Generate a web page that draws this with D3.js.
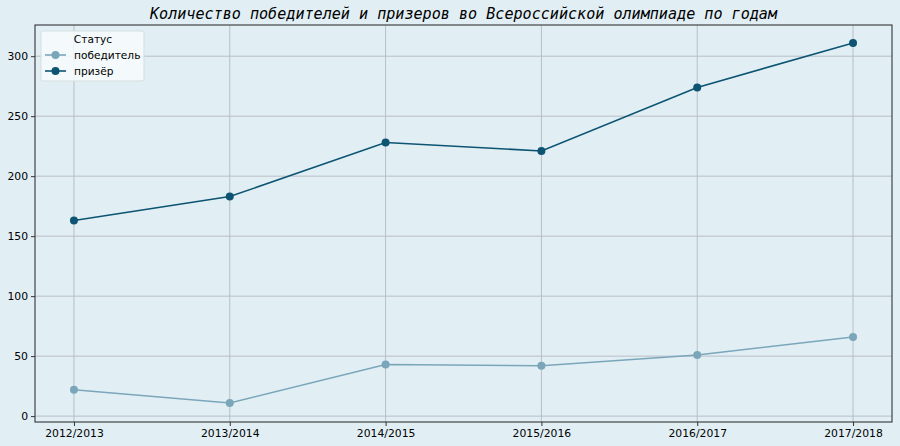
<!DOCTYPE html>
<html><head><meta charset="utf-8">
<script src="https://cdn.jsdelivr.net/npm/d3@7"></script>
<style>body{margin:0;background:#e1eff5;} svg{display:block;}</style>
</head><body>
<script>
const categories = ["2012/2013","2013/2014","2014/2015","2015/2016","2016/2017","2017/2018"];
const winners = [22, 11, 43, 42, 51, 66];
const prizers = [163, 183, 228, 221, 274, 311];
const seriesNames = ["победитель", "призёр"];
const seriesColors = ["#7ba6ba", "#0c5472"];
const yTicks = [0, 50, 100, 150, 200, 250, 300];
const title = "Количество победителей и призеров во Всероссийской олимпиаде по годам";
const legendTitle = "Статус";

const W = 900, H = 446;
const m = {left: 35, right: 8, top: 25, bottom: 24};
const svg = d3.select("body").append("svg").attr("width", W).attr("height", H);
svg.append("rect").attr("width", W).attr("height", H).attr("fill", "#e1eff5");

const x = d3.scalePoint().domain(categories).range([m.left, W - m.right]).padding(0.25);
const y = d3.scaleLinear().domain([-4.9, 326]).range([H - m.bottom, m.top]);

const g = svg.append("g");
g.selectAll(".vg").data(categories).join("line")
  .attr("x1", d => x(d)).attr("x2", d => x(d)).attr("y1", m.top).attr("y2", H - m.bottom)
  .attr("stroke", "#b9bdc6").attr("stroke-width", 1);
g.selectAll(".hg").data(yTicks).join("line")
  .attr("x1", m.left).attr("x2", W - m.right).attr("y1", d => y(d)).attr("y2", d => y(d))
  .attr("stroke", "#b9bdc6").attr("stroke-width", 1);

const font = "'DejaVu Sans', sans-serif";
const xAxis = svg.append("g").attr("transform", `translate(0,${H - m.bottom})`)
  .call(d3.axisBottom(x).tickSize(4).tickPadding(3));
const yAxis = svg.append("g").attr("transform", `translate(${m.left},0)`)
  .call(d3.axisLeft(y).tickValues(yTicks).tickSize(4).tickPadding(3));
[xAxis, yAxis].forEach(a => {
  a.select(".domain").remove();
  a.selectAll("text").attr("font-family", font).attr("font-size", "10.8px").attr("fill", "#000");
  a.selectAll("line").attr("stroke", "#333");
});
svg.append("rect").attr("x", m.left).attr("y", m.top)
  .attr("width", W - m.left - m.right).attr("height", H - m.top - m.bottom)
  .attr("fill", "none").attr("stroke", "#333").attr("stroke-width", 1.1);

const line = d3.line().x((d, i) => x(categories[i])).y(d => y(d));
[winners, prizers].forEach((vals, k) => {
  svg.append("path").datum(vals).attr("d", line).attr("fill", "none")
    .attr("stroke", seriesColors[k]).attr("stroke-width", 1.6);
  svg.selectAll(".pt" + k).data(vals).join("circle")
    .attr("cx", (d, i) => x(categories[i])).attr("cy", d => y(d)).attr("r", 4)
    .attr("fill", seriesColors[k]);
});

svg.append("text").attr("x", (m.left + W - m.right) / 2).attr("y", 19)
  .attr("text-anchor", "middle").attr("font-family", "'DejaVu Sans Mono', monospace")
  .attr("font-style", "italic").attr("font-size", "15.1px").attr("fill", "#000").text(title);

const lg = svg.append("g").attr("transform", "translate(41,31)");
lg.append("rect").attr("width", 103).attr("height", 50).attr("rx", 2)
  .attr("fill", "#f7fbfc").attr("fill-opacity", 0.85).attr("stroke", "#d5dde2");
lg.append("text").attr("x", 52).attr("y", 12).attr("text-anchor", "middle")
  .attr("font-family", font).attr("font-size", "10.6px").attr("fill", "#000").text(legendTitle);
seriesNames.forEach((name, k) => {
  const yy = 24 + k * 16;
  lg.append("line").attr("x1", 4).attr("x2", 25).attr("y1", yy).attr("y2", yy)
    .attr("stroke", seriesColors[k]).attr("stroke-width", 1.6);
  lg.append("circle").attr("cx", 14.5).attr("cy", yy).attr("r", 4).attr("fill", seriesColors[k]);
  lg.append("text").attr("x", 33).attr("y", yy + 3.8).attr("font-family", font)
    .attr("font-size", "10.6px").attr("fill", "#000").text(name);
});
</script>
</body></html>
